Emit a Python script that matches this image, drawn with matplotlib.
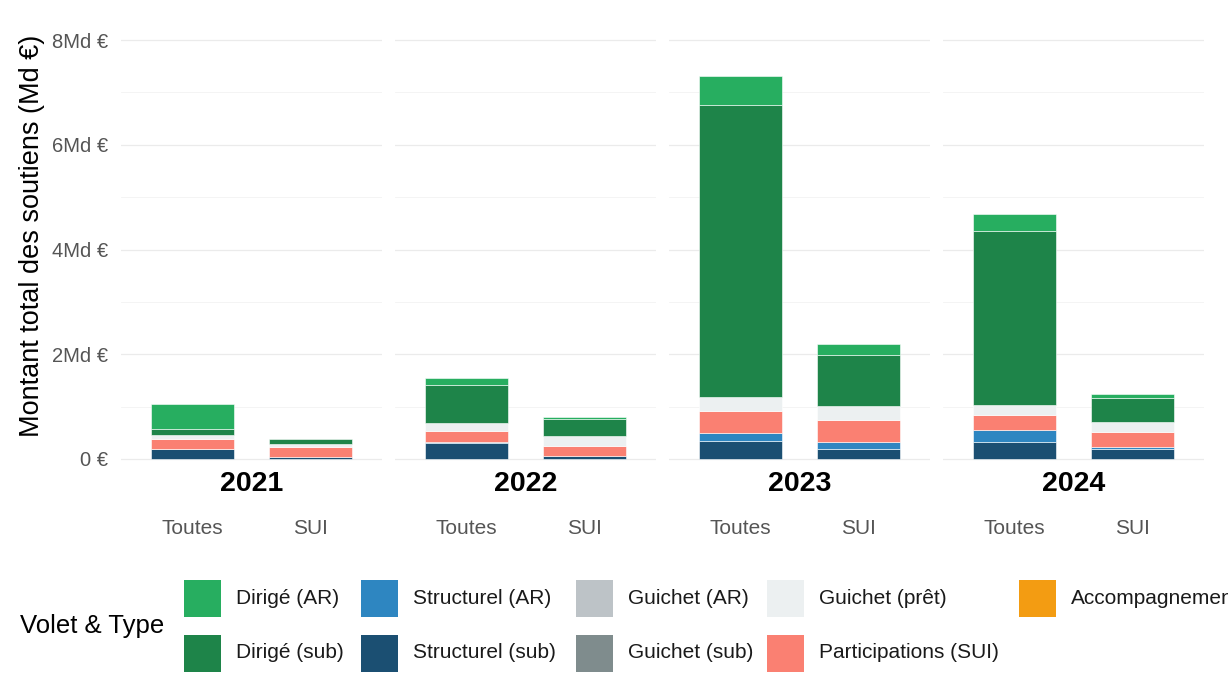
import matplotlib
matplotlib.use("Agg")
import matplotlib.pyplot as plt
from matplotlib.patches import Rectangle
from matplotlib.transforms import blended_transform_factory

plt.rcParams['font.family'] = ['Liberation Sans', 'DejaVu Sans']

# ---- data (Md €) ------------------------------------------------------------
years = ["2021", "2022", "2023", "2024"]
groups = ["Toutes", "SUI"]
# order of every series: 2021 Toutes, 2021 SUI, 2022 Toutes, 2022 SUI, ...
structurel_sub = [0.185, 0.045, 0.30, 0.065, 0.34, 0.20, 0.33, 0.185]
structurel_ar = [0.01, 0.00, 0.03, 0.00, 0.15, 0.13, 0.22, 0.05]
participations = [0.19, 0.18, 0.20, 0.19, 0.43, 0.41, 0.29, 0.29]
guichet_sub = [0, 0, 0, 0, 0, 0, 0, 0]
guichet_ar = [0, 0, 0, 0, 0, 0, 0, 0]
guichet_pret = [0.08, 0.057, 0.165, 0.185, 0.26, 0.27, 0.19, 0.19]
dirige_sub = [0.10, 0.095, 0.71, 0.32, 5.58, 0.97, 3.33, 0.445]
dirige_ar = [0.48, 0.0, 0.15, 0.05, 0.55, 0.21, 0.32, 0.08]
accompagnement = [0, 0, 0, 0, 0, 0, 0, 0]

y_ticks = [0, 2, 4, 6, 8]
y_tick_labels = ["0 €", "2Md €", "4Md €", "6Md €", "8Md €"]

# stacking order, bottom to top
stack = [
    ("Structurel (sub)", structurel_sub, "#1B4F72"),
    ("Structurel (AR)", structurel_ar, "#2E86C1"),
    ("Participations (SUI)", participations, "#FA8072"),
    ("Guichet (sub)", guichet_sub, "#7F8C8D"),
    ("Guichet (AR)", guichet_ar, "#BDC3C7"),
    ("Guichet (prêt)", guichet_pret, "#ECF0F1"),
    ("Dirigé (sub)", dirige_sub, "#1E8449"),
    ("Dirigé (AR)", dirige_ar, "#27AE60"),
    ("Accompagnement", accompagnement, "#F39C12"),
]
colors = {name: c for name, _, c in stack}

# legend layout: columns filled top to bottom
legend_cols = [
    ["Dirigé (AR)", "Dirigé (sub)"],
    ["Structurel (AR)", "Structurel (sub)"],
    ["Guichet (AR)", "Guichet (sub)"],
    ["Guichet (prêt)", "Participations (SUI)"],
    ["Accompagnement"],
]

# ---- figure -----------------------------------------------------------------
W, H = 1228, 693
fig = plt.figure(figsize=(W / 100, H / 100), dpi=100)
fig.patch.set_facecolor("white")

ymin, ymax = -0.16, 8.35
px_per_unit = 52.375
y0_px = 459
bottom_px = y0_px - ymin * px_per_unit
top_px = y0_px - ymax * px_per_unit
panel_left = [121, 395, 669, 943]
panel_w = 261

tick_color = "#555555"
for i, year in enumerate(years):
    ax = fig.add_axes([panel_left[i] / W, 1 - bottom_px / H,
                       panel_w / W, (bottom_px - top_px) / H])
    ax.set_xlim(-0.6, 1.6)
    ax.set_ylim(ymin, ymax)
    for s in ax.spines.values():
        s.set_visible(False)
    ax.set_yticks(y_ticks)
    ax.set_yticks([1, 3, 5, 7], minor=True)
    ax.grid(axis="y", which="major", color="#ebebeb", lw=0.9)
    ax.grid(axis="y", which="minor", color="#f3f3f3", lw=0.6)
    ax.set_axisbelow(True)
    if i == 0:
        ax.set_yticklabels(y_tick_labels)
    else:
        ax.set_yticklabels([])
    ax.tick_params(axis="y", which="both", length=0, pad=9,
                   labelsize=14.5, labelcolor=tick_color)
    ax.set_xticks(range(len(groups)))
    ax.set_xticklabels(groups)
    ax.tick_params(axis="x", length=0, pad=37, labelsize=15,
                   labelcolor=tick_color)

    for j in range(len(groups)):
        k = i * len(groups) + j
        base = 0.0
        for name, vals, col in stack:
            v = vals[k]
            if v <= 0:
                continue
            ax.bar(j, v, width=0.7, bottom=base, color=col,
                   edgecolor="white", linewidth=0.4)
            base += v

    # strip label under the panel
    tr = blended_transform_factory(ax.transAxes, fig.transFigure)
    ax.text(0.5, 1 - 484 / H, year, transform=tr, ha="center", va="center",
            fontsize=20.5, fontweight="bold", color="black")

fig.text(32 / W, 1 - 236 / H, "Montant total des soutiens (Md €)",
         rotation=90, ha="center", va="center", fontsize=19.5, color="black")

# ---- legend -----------------------------------------------------------------
fig.text(20 / W, 1 - 626 / H, "Volet & Type", ha="left", va="center",
         fontsize=18.5, color="black")
key_x = [184, 361, 576, 767, 1019]
row_y = [598, 653]
key = 37
for c, col in enumerate(legend_cols):
    for r, name in enumerate(col):
        cx, cy = key_x[c], row_y[r]
        fig.add_artist(Rectangle((cx / W, 1 - (cy + key / 2) / H),
                                 key / W, key / H, transform=fig.transFigure,
                                 facecolor=colors[name], edgecolor="none"))
        fig.text((cx + key + 15) / W, 1 - cy / H, name, ha="left",
                 va="center", fontsize=15, color="#1a1a1a")

fig.savefig("out.png", dpi=100, facecolor="white")
